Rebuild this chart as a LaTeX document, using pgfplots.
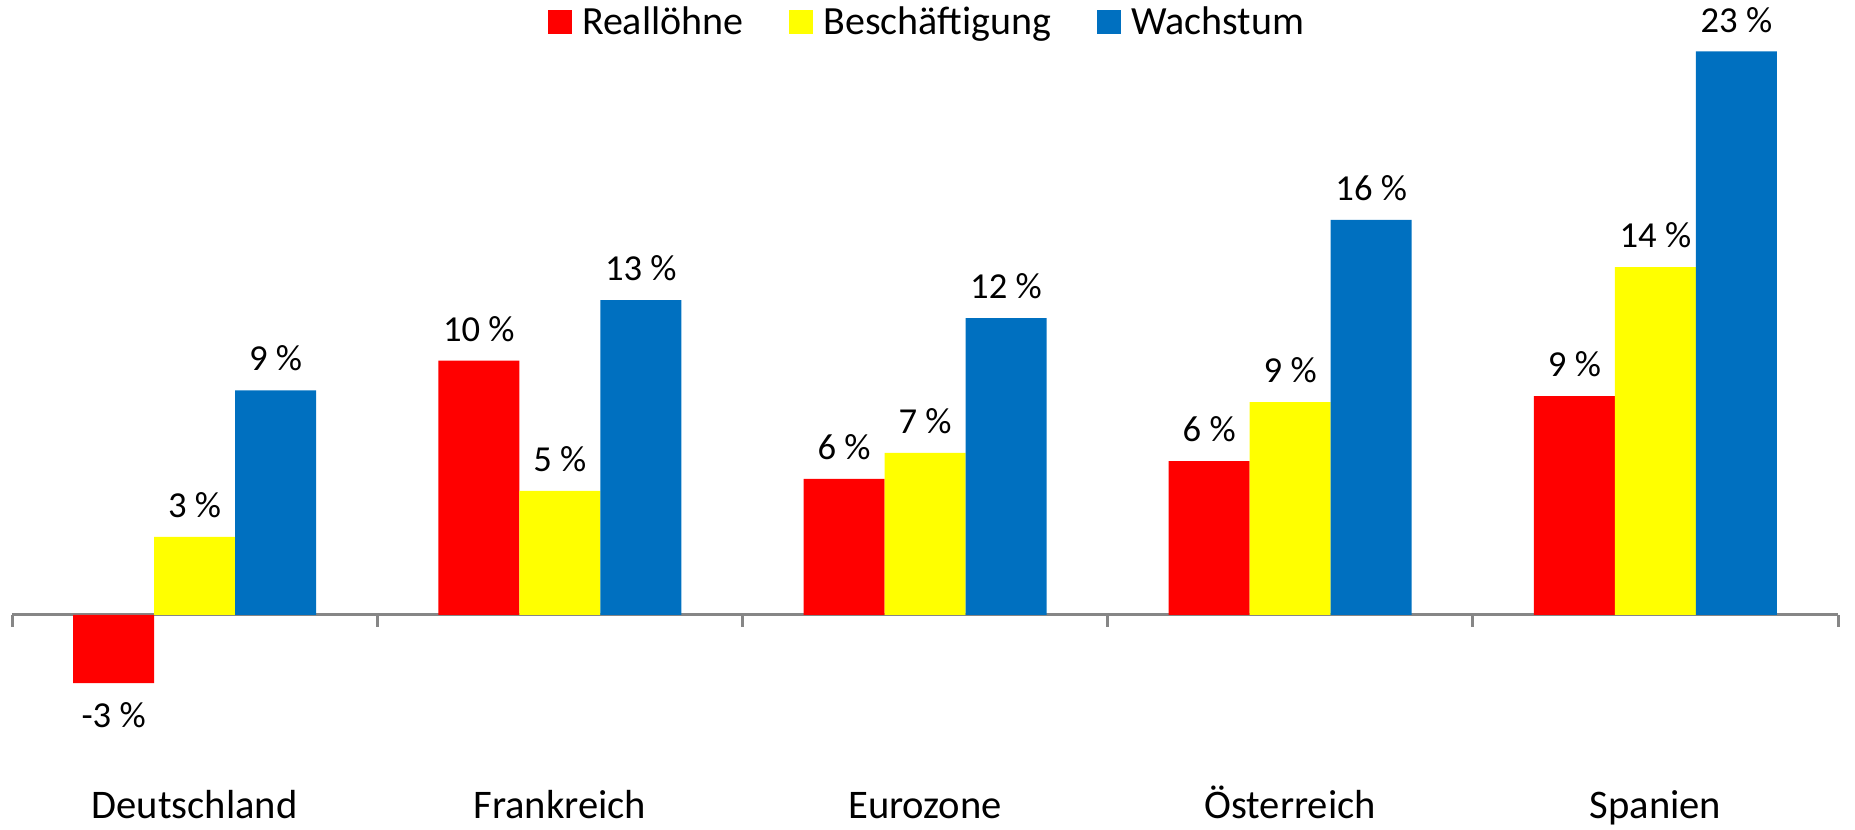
\documentclass[border=0pt]{standalone}
\usepackage{pgfplots}
\pgfplotsset{compat=1.18}
\usepackage{fontspec}
\setmainfont{Carlito}
\definecolor{cR}{HTML}{FF0000}
\definecolor{cY}{HTML}{FFFF00}
\definecolor{cB}{HTML}{0070C0}
\definecolor{axgray}{HTML}{868686}
\begin{document}
\begin{tikzpicture}
\begin{axis}[
  at={(0,0)}, anchor=south west,
  scale only axis, width=913pt, height=414.5pt,
  xmin=-0.5, xmax=4.5, ymin=-8.735, ymax=25.1,
  axis x line=middle, axis y line=none,
  axis line style={draw=axgray, line width=1.5pt, -},
  xtick={0,...,4},
  xticklabels={Deutschland,Frankreich,Eurozone,Österreich,Spanien},
  major tick length=0pt,
  minor xtick={-0.5,0.5,...,4.5},
  minor tick length=6pt,
  tick align=outside,
  minor tick style={draw=axgray, line width=1.5pt},
  xticklabel style={font=\fontsize{20.3}{24}\selectfont, anchor=north, text height=15pt, text depth=5pt, yshift=-83pt},
  ybar=0pt,
  bar width=0.2218,
  nodes near coords={\pgfmathprintnumber{\pgfplotspointmeta}~\%},
  /pgf/number format/.cd, fixed, precision=0, assume math mode=true,
  /pgfplots/.cd,
  every node near coord/.append style={font=\fontsize{18.3}{21}\selectfont, text=black, inner ysep=9.3pt},
  legend columns=3,
  legend style={at={(0.5,1)}, anchor=north, draw=none, fill=none,
    font=\fontsize{20}{24}\selectfont, inner sep=0pt, yshift=-1pt, xshift=1.5pt,
    /tikz/every odd column/.append style={column sep=3pt},
    /tikz/every even column/.append style={column sep=21pt}},
  legend image code/.code={\fill[#1] (0pt,-6pt) rectangle (12pt,6pt);},
]
\addplot[fill=cR, draw=none, bar shift=-0.2218] coordinates {(0,-2.78) (1,10.38) (2,5.55) (3,6.28) (4,8.93)};
\addplot[fill=cY, draw=none, bar shift=0] coordinates {(0,3.19) (1,5.07) (2,6.62) (3,8.69) (4,14.2)};
\addplot[fill=cB, draw=none, bar shift=0.2218] coordinates {(0,9.17) (1,12.85) (2,12.12) (3,16.13) (4,23.0)};
\legend{Reallöhne,Beschäftigung,Wachstum}
\end{axis}
\pgfresetboundingbox
\path[use as bounding box] (-6pt,0) rectangle (921.5pt,414.5pt);
\end{tikzpicture}
\end{document}
